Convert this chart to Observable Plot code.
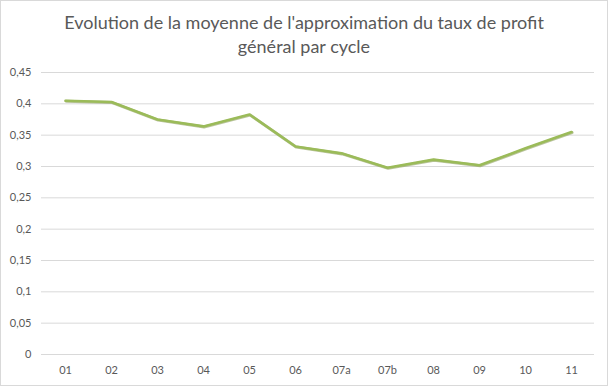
<!DOCTYPE html>
<html>
<head>
<meta charset="utf-8">
<script src="https://cdn.jsdelivr.net/npm/d3@7"></script>
<script src="https://cdn.jsdelivr.net/npm/@observablehq/plot@0.6"></script>
<style>
  html, body { margin: 0; padding: 0; background: #fff; }
  #frame { width: 606px; height: 384px; border: 1px solid #d9d9d9; background: #fff; overflow: hidden; }
  #title { height: 60px; text-align: center; font-family: Lato, "Open Sans", sans-serif; font-size: 18px; color: #595959; line-height: 24px; padding-top: 9px; box-sizing: border-box; }
  svg { display: block; }
</style>
</head>
<body>
<div id="frame">
  <div id="title">Evolution de la moyenne de l'approximation du taux de profit<br>général par cycle</div>
  <div id="chart"></div>
</div>
<script>
const cycles = ["01","02","03","04","05","06","07a","07b","08","09","10","11"];
const values = [0.405, 0.403, 0.375, 0.364, 0.383, 0.332, 0.321, 0.298, 0.311, 0.302, 0.329, 0.355];
const yTicks = [0, 0.05, 0.1, 0.15, 0.2, 0.25, 0.3, 0.35, 0.4, 0.45];

const data = cycles.map((c, i) => ({cycle: c, value: values[i]}));
const fmt = d => String(d).replace(".", ",");

const chart = Plot.plot({
  width: 606,
  height: 324,
  marginTop: 11,
  marginBottom: 31,
  marginLeft: 40,
  marginRight: 13,
  style: { fontFamily: "Lato, 'Open Sans', sans-serif", fontSize: "11px", color: "#595959", background: "#fff" },
  x: { type: "band", domain: cycles, padding: 0, label: null },
  y: { domain: [0, 0.45], label: null },
  marks: [
    Plot.gridY(yTicks, { stroke: "#d9d9d9", strokeOpacity: 1 }),
    Plot.axisY(yTicks, { tickSize: 0, tickPadding: 10, tickFormat: fmt, label: null }),
    Plot.axisX({ tickSize: 0, tickPadding: 12, label: null }),
    Plot.lineY(data, { x: "cycle", y: "value", stroke: "#8c9c5e", strokeWidth: 3, dx: 0.6, dy: 0.6, strokeOpacity: 0.6 }),
    Plot.lineY(data, { x: "cycle", y: "value", stroke: "#9bbb59", strokeWidth: 2.6 })
  ]
});
document.getElementById("chart").appendChild(chart);
</script>
</body>
</html>
